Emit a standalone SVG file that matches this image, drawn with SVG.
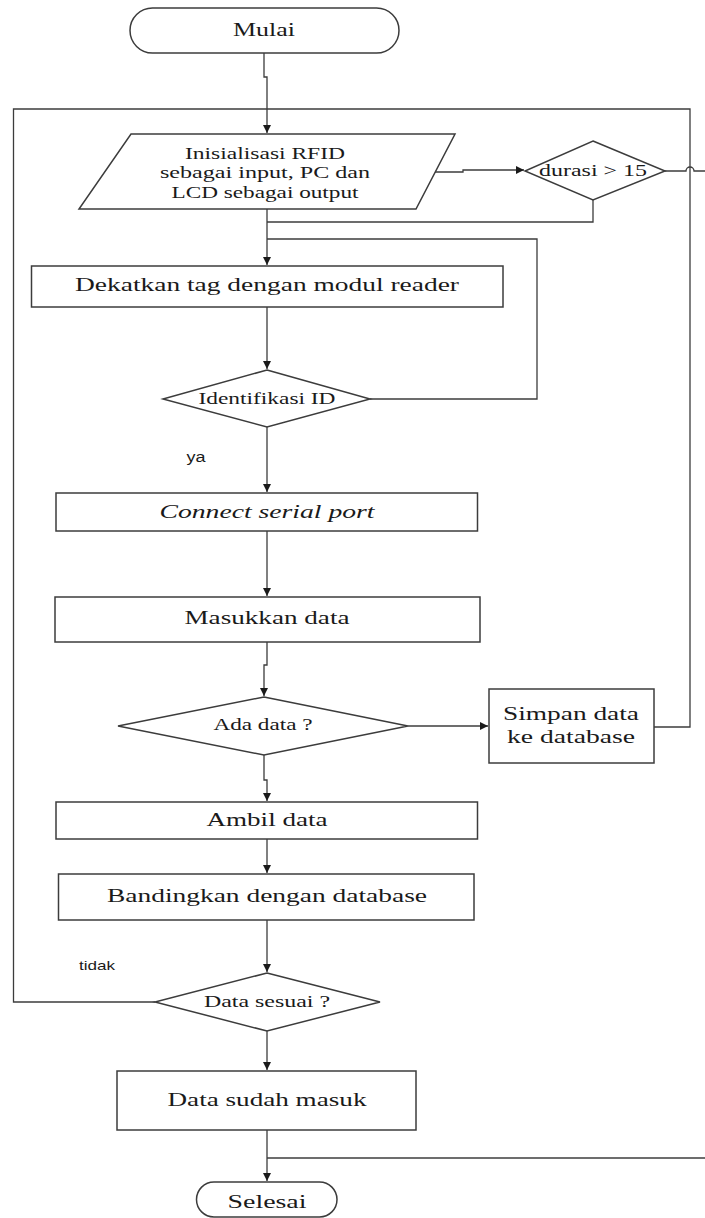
<svg xmlns="http://www.w3.org/2000/svg" width="705" height="1218" viewBox="0 0 705 1218">
<style>
.shape{fill:#ffffff;stroke:#3c3c3c;stroke-width:1.5}
.line{fill:none;stroke:#3c3c3c;stroke-width:1.3}
.t{font-family:"Liberation Serif","Times New Roman",serif;fill:#1a1a1a;text-anchor:middle}
.lbl{font-family:"Liberation Sans",Arial,sans-serif;fill:#1a1a1a;text-anchor:middle}
</style>
<defs>
<marker id="arr" markerUnits="userSpaceOnUse" markerWidth="8" markerHeight="8" refX="8" refY="4" orient="auto">
<path d="M0,0 L8,4 L0,8 z" fill="#1a1a1a"/>
</marker>
</defs>
<rect width="705" height="1218" fill="#ffffff"/>
<g id="connectors">
<path class="line" d="M264,53 V77 H267 V133" marker-end="url(#arr)"/>
<path class="line" d="M435,172 H463 V170 H524" marker-end="url(#arr)"/>
<path class="line" d="M665,171 H686 a4,4 0 0 1 8,0 H705"/>
<path class="line" d="M593,200 V222 H267"/>
<path class="line" d="M267,209 V265" marker-end="url(#arr)"/>
<path class="line" d="M370,399 H537 V239 H267"/>
<path class="line" d="M267,307 V369" marker-end="url(#arr)"/>
<path class="line" d="M267,427 V492" marker-end="url(#arr)"/>
<path class="line" d="M267,531 V596" marker-end="url(#arr)"/>
<path class="line" d="M267,642 V665 H264 V696" marker-end="url(#arr)"/>
<path class="line" d="M408,726 H488" marker-end="url(#arr)"/>
<path class="line" d="M654,727 H690 V109 H13.5 V1002 H155"/>
<path class="line" d="M264,755 V780 H267 V801" marker-end="url(#arr)"/>
<path class="line" d="M267,839 V873" marker-end="url(#arr)"/>
<path class="line" d="M267,920 V972" marker-end="url(#arr)"/>
<path class="line" d="M267,1031 V1070" marker-end="url(#arr)"/>
<path class="line" d="M267,1130 V1181" marker-end="url(#arr)"/>
<path class="line" d="M267,1158 H705"/>
<text class="lbl" x="196" y="462" font-size="14" textLength="19" lengthAdjust="spacingAndGlyphs">ya</text>
<text class="lbl" x="97" y="970" font-size="13" textLength="36" lengthAdjust="spacingAndGlyphs">tidak</text>
</g>
<g id="mulai">
<rect class="shape" x="130" y="8" width="269" height="45" rx="22.5"/>
<text class="t" x="264" y="36" font-size="18" textLength="62" lengthAdjust="spacingAndGlyphs">Mulai</text>
</g>
<g id="inisialisasi">
<polygon class="shape" points="131,134 455,134 416,209 79,209"/>
<text class="t" x="265" y="159" font-size="16" textLength="160" lengthAdjust="spacingAndGlyphs">Inisialisasi RFID</text>
<text class="t" x="265" y="178" font-size="16" textLength="210" lengthAdjust="spacingAndGlyphs">sebagai input, PC dan</text>
<text class="t" x="265" y="198" font-size="16" textLength="187" lengthAdjust="spacingAndGlyphs">LCD sebagai output</text>
</g>
<g id="durasi">
<polygon class="shape" points="593,141 665,171 593,200 525,171"/>
<text class="t" x="593" y="176" font-size="16" textLength="108" lengthAdjust="spacingAndGlyphs">durasi &gt; 15</text>
</g>
<g id="dekatkan">
<rect class="shape" x="31.5" y="266" width="471.5" height="41"/>
<text class="t" x="267" y="291" font-size="18" textLength="384" lengthAdjust="spacingAndGlyphs">Dekatkan tag dengan modul reader</text>
</g>
<g id="identifikasi">
<polygon class="shape" points="267,370 370,399 267,427 163,399"/>
<text class="t" x="267" y="404" font-size="16" textLength="137" lengthAdjust="spacingAndGlyphs">Identifikasi ID</text>
</g>
<g id="connect">
<rect class="shape" x="56" y="493" width="421.5" height="38"/>
<text class="t" x="267" y="518" font-size="18" font-style="italic" textLength="215" lengthAdjust="spacingAndGlyphs">Connect serial port</text>
</g>
<g id="masukkan">
<rect class="shape" x="55" y="597" width="425" height="45"/>
<text class="t" x="267" y="624" font-size="19" textLength="165" lengthAdjust="spacingAndGlyphs">Masukkan data</text>
</g>
<g id="ada-data">
<polygon class="shape" points="264,697 408,726 264,755 118,726"/>
<text class="t" x="263" y="730" font-size="16" textLength="99" lengthAdjust="spacingAndGlyphs">Ada data ?</text>
</g>
<g id="simpan">
<rect class="shape" x="489" y="689" width="165" height="74"/>
<text class="t" x="571" y="720" font-size="19" textLength="136" lengthAdjust="spacingAndGlyphs">Simpan data</text>
<text class="t" x="571" y="743" font-size="19" textLength="128" lengthAdjust="spacingAndGlyphs">ke database</text>
</g>
<g id="ambil">
<rect class="shape" x="56" y="802" width="421.5" height="37"/>
<text class="t" x="267" y="826" font-size="19" textLength="121" lengthAdjust="spacingAndGlyphs">Ambil data</text>
</g>
<g id="bandingkan">
<rect class="shape" x="58.5" y="874" width="415.5" height="46"/>
<text class="t" x="267" y="902" font-size="19" textLength="320" lengthAdjust="spacingAndGlyphs">Bandingkan dengan database</text>
</g>
<g id="data-sesuai">
<polygon class="shape" points="267,973 380,1002 267,1031 155,1002"/>
<text class="t" x="267" y="1007" font-size="16" textLength="126" lengthAdjust="spacingAndGlyphs">Data sesuai ?</text>
</g>
<g id="data-sudah">
<rect class="shape" x="117" y="1071" width="299" height="59"/>
<text class="t" x="267" y="1106" font-size="19" textLength="199" lengthAdjust="spacingAndGlyphs">Data sudah masuk</text>
</g>
<g id="selesai">
<rect class="shape" x="196.5" y="1182" width="140.5" height="35" rx="17.5"/>
<text class="t" x="267" y="1208" font-size="19" textLength="79" lengthAdjust="spacingAndGlyphs">Selesai</text>
</g>
</svg>
